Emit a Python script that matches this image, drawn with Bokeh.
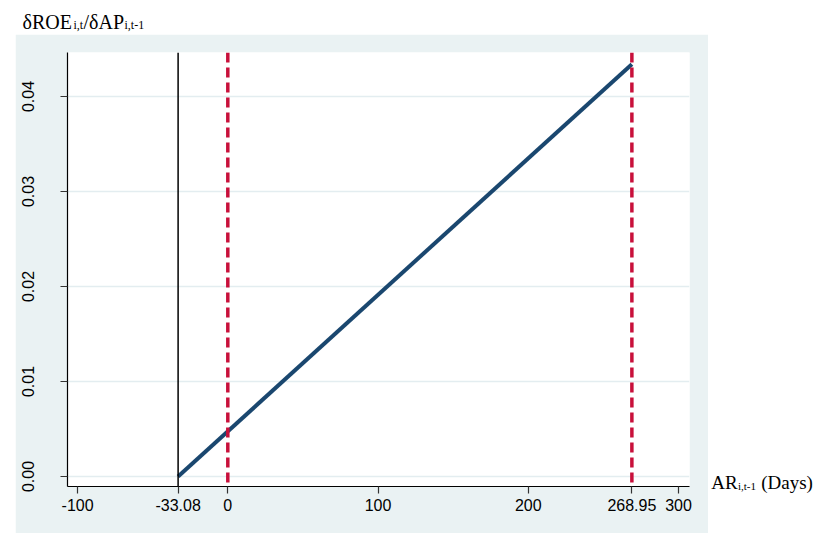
from bokeh.plotting import figure
from bokeh.models import Range1d, FixedTicker, Span, Label, Spacer
from bokeh.layouts import row, column
from bokeh.embed import file_html
from bokeh.resources import INLINE

# ---- data ----
x_ticks = [-100, -33.08, 0, 100, 200, 268.95, 300]
x_tick_labels = ["-100", "-33.08", "0", "100", "200", "268.95", "300"]
y_ticks = [0.00, 0.01, 0.02, 0.03, 0.04]
y_tick_labels = ["0.00", "0.01", "0.02", "0.03", "0.04"]
line_x = [-33.08, 268.95]
line_y = [0.0, 0.0434]
black_line_x = -33.08
red_lines_x = [0, 268.95]

PANEL = "#EAF2F3"
PAGE_W, TOP_H = 816, 34
LEFT_W, MAIN_W, MAIN_H = 15, 693, 499
RIGHT_W = PAGE_W - LEFT_W - MAIN_W

# ---- main chart ----
p = figure(width=MAIN_W, height=MAIN_H, output_backend="svg", toolbar_location=None,
           title=None,
           x_range=Range1d(-106.7, 307.3), y_range=Range1d(-0.00105, 0.04463),
           min_border_left=52, min_border_right=19, min_border_top=18,
           min_border_bottom=47)
p.frame_align = False
p.outline_line_color = None
p.background_fill_color = "white"
p.border_fill_color = PANEL

for ax in (p.xaxis[0], p.yaxis[0]):
    ax.axis_line_color = "black"
    ax.axis_line_width = 1.2
    ax.major_tick_line_color = "#333333"
    ax.major_tick_line_width = 1.2
    ax.major_tick_out = 7
    ax.major_tick_in = 0
    ax.minor_tick_line_color = None
    ax.major_label_text_font = "Liberation Sans"
    ax.major_label_text_font_size = "16px"
    ax.major_label_text_color = "black"

p.xaxis.ticker = FixedTicker(ticks=x_ticks)
p.xaxis.major_label_overrides = {t: s for t, s in zip(x_ticks, x_tick_labels)}
p.xaxis.major_label_standoff = 5
p.yaxis.ticker = FixedTicker(ticks=y_ticks)
p.yaxis.major_label_overrides = {t: s for t, s in zip(y_ticks, y_tick_labels)}
p.yaxis.major_label_orientation = "vertical"
p.yaxis.major_label_standoff = 26

p.xgrid.grid_line_color = None
p.ygrid.ticker = FixedTicker(ticks=y_ticks)
p.ygrid.grid_line_color = "#E3EDF0"
p.ygrid.grid_line_width = 1.5

p.add_layout(Span(location=black_line_x, dimension="height",
                  line_color="black", line_width=1.5))
p.line(line_x, line_y, line_width=4, line_color="#1A476F")
for v in red_lines_x:
    p.add_layout(Span(location=v, dimension="height", line_color="#C8103B",
                      line_width=3.5, line_dash="10 5"))


# ---- text-only canvases (white page area) ----
def text_canvas(w, h):
    f = figure(width=w, height=h, output_backend="svg", toolbar_location=None,
               title=None,
               x_range=Range1d(0, w), y_range=Range1d(h, 0),
               x_axis_type=None, y_axis_type=None,
               min_border=0, min_border_left=0, min_border_right=0,
               min_border_top=0, min_border_bottom=0)
    f.frame_align = False
    f.outline_line_color = None
    f.background_fill_color = "white"
    f.border_fill_color = "white"
    f.xgrid.visible = False
    f.ygrid.visible = False
    return f


def lab(f, x, y, text, size):
    f.add_layout(Label(x=x, y=y, text=text, text_font="Liberation Serif",
                       text_font_size=size, text_color="black",
                       text_baseline="alphabetic", text_align="left"))


# title: δROE_{i,t}/δAP_{i,t-1}
top = text_canvas(PAGE_W, TOP_H)
tx, ty = 22.0, 21.5
lab(top, tx, ty, "δROE", "20px")
lab(top, tx + 51, ty + 3.4, "i,t", "12px")
lab(top, tx + 61, ty, "/δAP", "20px")
lab(top, tx + 102, ty + 3.4, "i,t-1", "12px")

# x label: AR_{i,t-1} (Days)
right = text_canvas(RIGHT_W, MAIN_H)
ax_x, ax_y = 2.7, 447.7
lab(right, ax_x, ax_y, "AR", "19px")
lab(right, ax_x + 26.8, ax_y + 3.4, "i,t-1", "11px")
lab(right, ax_x + 50.0, ax_y, "(Days)", "19px")

left = Spacer(width=LEFT_W, height=MAIN_H)

layout = column(top, row(left, p, right, spacing=0), spacing=0)

open("out.html", "w").write(file_html(layout, INLINE))
